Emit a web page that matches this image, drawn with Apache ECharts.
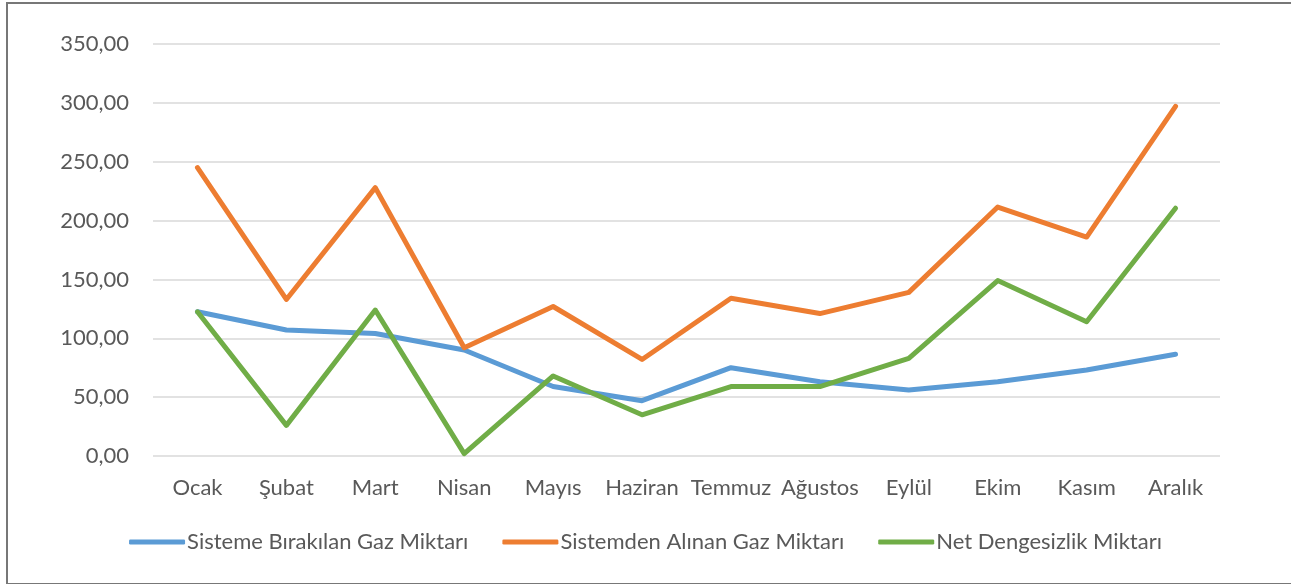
<!DOCTYPE html>
<html>
<head>
<meta charset="utf-8">
<script src="https://cdn.jsdelivr.net/npm/echarts@6/dist/echarts.min.js"></script>
<style>
  html, body { margin: 0; padding: 0; background: #fff; }
  #frame {
    position: absolute; left: 6px; top: 2px; width: 1290px; height: 579px;
    border-left: 2px solid #777; border-top: 2px solid #777; border-bottom: 2px solid #777;
  }
  #main { position: absolute; left: 0; top: 0; width: 1291px; height: 584px; }
</style>
</head>
<body>
<div id="frame"></div>
<div id="main"></div>
<script>
// aylar
var months = ['Ocak', 'Şubat', 'Mart', 'Nisan', 'Mayıs', 'Haziran', 'Temmuz', 'Ağustos', 'Eylül', 'Ekim', 'Kasım', 'Aralık'];
// seriler
var birakilan = [122.5, 107, 104, 90, 59, 47, 75, 63, 56, 63, 73, 86.5];
var alinan = [245, 133, 228, 92, 127, 82, 134, 121, 139, 211.5, 186, 297];
var dengesizlik = [122.5, 26, 124, 2, 68, 35, 59, 59, 83, 149, 114, 210.5];
var seriesNames = ['Sisteme Bırakılan Gaz Miktarı', 'Sistemden Alınan Gaz Miktarı', 'Net Dengesizlik Miktarı'];

(function () {
  var myChart = echarts.init(document.getElementById('main'));
  var textColor = '#595959';
  var font = 'Lato, "Open Sans", sans-serif';

  function line(name, data, color) {
    return {
      name: name,
      type: 'line',
      data: data,
      symbol: 'none',
      lineStyle: { width: 5, color: color, cap: 'round', join: 'round' },
      itemStyle: { color: color }
    };
  }

  var option = {
    animation: false,
    textStyle: { fontFamily: font },
    grid: {
      left: 153,
      right: 71,
      top: 44,
      bottom: 128
    },
    legend: {
      top: 526,
      left: 'center',
      itemWidth: 56,
      itemHeight: 5,
      itemGap: 34,
      icon: 'roundRect',
      textStyle: { color: textColor, fontSize: 22, fontFamily: font, padding: [0, 0, 0, -3] },
      data: seriesNames
    },
    xAxis: {
      type: 'category',
      data: months,
      boundaryGap: true,
      axisLine: { show: false },
      axisTick: { show: false },
      axisLabel: { color: textColor, fontSize: 22, margin: 21, interval: 0 }
    },
    yAxis: {
      type: 'value',
      min: 0,
      max: 350,
      interval: 50,
      axisLine: { show: false },
      axisTick: { show: false },
      axisLabel: {
        color: textColor,
        fontSize: 22,
        margin: 24,
        formatter: function (v) { return v.toFixed(2).replace('.', ','); }
      },
      splitLine: { lineStyle: { color: '#d9d9d9', width: 1.5 } }
    },
    series: [
      line(seriesNames[0], birakilan, '#5B9BD5'),
      line(seriesNames[1], alinan, '#ED7D31'),
      line(seriesNames[2], dengesizlik, '#70AD47')
    ]
  };
  myChart.setOption(option);
})();
</script>
</body>
</html>
